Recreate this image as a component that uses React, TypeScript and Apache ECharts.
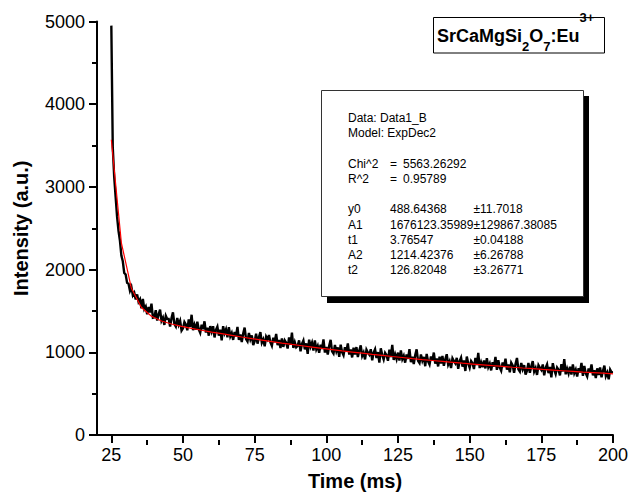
import React, { useEffect, useRef } from 'react';
import * as echarts from 'echarts';

// ---------- data ----------
const TIME_START = 25; // ms, first recorded sample
const TIME_STEP = 0.5; // ms between samples
const decayIntensity = [
  4950, 3480, 3120, 2880, 2640, 2470, 2350, 2170, 2100, 1960,
  1940, 1840, 1830, 1745, 1790, 1690, 1720, 1640, 1700, 1610,
  1640, 1532, 1644, 1524, 1555, 1460, 1547, 1483, 1588, 1418,
  1424, 1510, 1385, 1459, 1515, 1382, 1419, 1331, 1443, 1404,
  1404, 1311, 1414, 1483, 1342, 1312, 1414, 1334, 1380, 1263,
  1290, 1367, 1338, 1266, 1399, 1308, 1454, 1268, 1333, 1273,
  1369, 1277, 1236, 1333, 1279, 1375, 1239, 1298, 1201, 1316,
  1250, 1315, 1180, 1271, 1310, 1201, 1273, 1144, 1316, 1231,
  1278, 1181, 1303, 1193, 1234, 1150, 1247, 1194, 1308, 1149,
  1215, 1124, 1228, 1299, 1159, 1131, 1234, 1156, 1203, 1088,
  1135, 1225, 1105, 1183, 1244, 1115, 1156, 1073, 1189, 1155,
  1209, 1119, 1079, 1177, 1124, 1222, 1087, 1148, 1051, 1168,
  1065, 1144, 1116, 1046, 1180, 1091, 1239, 1054, 1121, 1062,
  1079, 1145, 1011, 1103, 1143, 1035, 1108, 980, 1153, 1069,
  1117, 1021, 1144, 1035, 1077, 994, 1092, 1040, 1155, 997,
  1064, 974, 1079, 1151, 1012, 985, 1088, 1011, 1059, 945,
  1093, 1003, 964, 1062, 1010, 1108, 973, 1034, 938, 1055,
  972, 1063, 943, 1022, 1083, 955, 997, 914, 1031, 997,
  971, 1037, 904, 996, 1037, 930, 1003, 876, 1049, 966,
  914, 993, 966, 897, 1032, 943, 1091, 907, 975, 917,
  996, 900, 1023, 916, 958, 875, 973, 921, 1038, 880,
  947, 857, 963, 1035, 896, 870, 974, 897, 945, 832,
  980, 890, 852, 950, 899, 997, 863, 925, 829, 947,
  864, 955, 836, 915, 977, 849, 891, 809, 926, 893,
  867, 933, 801, 893, 935, 827, 901, 774, 948, 865,
  814, 894, 867, 798, 933, 845, 994, 810, 878, 820,
  900, 805, 928, 821, 863, 781, 880, 828, 945, 787,
  905, 816, 777, 876, 825, 924, 790, 852, 757, 874,
  842, 753, 858, 931, 793, 767, 871, 795, 844, 730,
  779, 871, 752, 831, 893, 766, 809, 727, 844, 811,
  786, 853, 721, 813, 855, 748, 822, 696, 869, 787,
  736, 816, 790, 721, 857, 769, 917, 734, 802, 745,
  825, 730, 854, 747, 790, 708, 807, 756, 873, 716,
  834, 745, 707, 806, 755, 854, 721, 783, 688, 806,
  724, 816, 697, 777, 839, 712, 755, 673, 791, 758,
  760,
];

const FIT_START = 25; // ms
const FIT_STEP = 3.5; // ms between fit-curve points
const fitIntensity = [
  3570, 2324, 1774, 1541, 1435, 1378, 1342, 1314, 1290, 1267,
  1245, 1225, 1205, 1185, 1166, 1148, 1130, 1112, 1095, 1079,
  1063, 1047, 1032, 1017, 1003, 989, 975, 962, 949, 937,
  924, 912, 901, 890, 879, 868, 858, 848, 838, 829,
  819, 810, 802, 793, 785, 777, 769, 761, 754, 747,
  740,
];

const xMajorTicks = [25, 50, 75, 100, 125, 150, 175, 200];
const xMinorTicks = [37.5, 62.5, 87.5, 112.5, 137.5, 162.5, 187.5];

const reportLabels = ['Data: Data1_B', 'Model: ExpDec2', '', 'Chi^2', 'R^2', '', 'y0', 'A1', 't1', 'A2', 't2'];
const reportEquals = ['', '', '', '=', '=', '', '', '', '', '', ''];
const reportStats = ['', '', '', '5563.26292', '0.95789', '', '', '', '', '', ''];
const reportValues = ['', '', '', '', '', '', '488.64368', '1676123.35989', '3.76547', '1214.42376', '126.82048'];
const reportErrors = ['', '', '', '', '', '', '±11.7018', '±129867.38085', '±0.04188', '±6.26788', '±3.26771'];

const FONT = "'Liberation Sans', Arial, Helvetica, sans-serif";

function measure(text: string, size: number, weight: string) {
  const c = document.createElement('canvas').getContext('2d');
  if (!c) return text.length * size * 0.6;
  c.font = `${weight} ${size}px ${FONT}`;
  return c.measureText(text).width;
}

export default function App() {
  const ref = useRef<HTMLDivElement>(null);

  useEffect(() => {
    if (!ref.current) return;
    const chart = echarts.init(ref.current, null, { renderer: 'svg' });

    const decayData = decayIntensity.map((v, i) => [TIME_START + i * TIME_STEP, v]);
    const fitData = fitIntensity.map((v, i) => [FIT_START + i * FIT_STEP, v]);

    // legend-box formula pieces
    const pieces = [
      { t: 'SrCaMgSi', s: 18, y: 35.5 },
      { t: '2', s: 13, y: 46 },
      { t: 'O', s: 18, y: 35.5 },
      { t: '7', s: 13, y: 46 },
      { t: ':Eu', s: 18, y: 35.5 },
      { t: '3+', s: 13, y: 17 },
    ];
    let px = 437;
    const formulaEls: any[] = [];
    pieces.forEach((p) => {
      formulaEls.push({
        type: 'text',
        x: px,
        y: p.y,
        z: 12,
        style: {
          text: p.t,
          fill: '#000',
          fontSize: p.s,
          fontWeight: 'bold',
          fontFamily: FONT,
          align: 'left',
          verticalAlign: 'middle',
        },
      });
      px += measure(p.t, p.s, 'bold');
    });

    const reportCol = (lines: string[], x: number) => ({
      type: 'text',
      x,
      y: 110.5,
      z: 12,
      style: {
        text: lines.join('\n'),
        fill: '#000',
        fontSize: 12,
        fontFamily: FONT,
        lineHeight: 15.2,
        align: 'left',
        verticalAlign: 'top',
      },
    });

    const axisLine = { show: true, onZero: false, lineStyle: { color: '#000', width: 2 } };

    chart.setOption({
      animation: false,
      backgroundColor: '#fff',
      textStyle: { fontFamily: FONT },
      grid: [
        { left: 97, right: 19, top: 21.5, bottom: 56, containLabel: false },
        { left: 97, right: 19, top: 21.5, bottom: 56, containLabel: false },
      ],
      xAxis: [
        {
          type: 'value',
          gridIndex: 0,
          min: 20,
          max: 200,
          axisLine,
          axisTick: { show: true, length: 8, customValues: xMajorTicks, lineStyle: { color: '#000', width: 2 } },
          axisLabel: { customValues: xMajorTicks, fontSize: 18, color: '#000', margin: 11, fontFamily: FONT },
          splitLine: { show: false },
          name: 'Time (ms)',
          nameLocation: 'middle',
          nameGap: 36,
          nameTextStyle: { fontSize: 20, fontWeight: 'bold', color: '#000', fontFamily: FONT },
        },
        {
          type: 'value',
          gridIndex: 1,
          min: 20,
          max: 200,
          axisLine: { show: false },
          axisTick: { show: true, length: 5, customValues: xMinorTicks, lineStyle: { color: '#000', width: 2 } },
          axisLabel: { show: false },
          splitLine: { show: false },
        },
      ],
      yAxis: [
        {
          type: 'value',
          gridIndex: 0,
          min: 0,
          max: 5000,
          interval: 1000,
          axisLine,
          axisTick: { show: true, length: 8, lineStyle: { color: '#000', width: 2 } },
          minorTick: { show: true, splitNumber: 2, length: 5, lineStyle: { color: '#000', width: 2 } },
          axisLabel: {
            fontSize: 18,
            color: '#000',
            margin: 12,
            fontFamily: FONT,
            formatter: (v: number) => String(v),
          },
          splitLine: { show: false },
          minorSplitLine: { show: false },
          name: 'Intensity (a.u.)',
          nameLocation: 'middle',
          nameGap: 66,
          nameTextStyle: { fontSize: 20, fontWeight: 'bold', color: '#000', fontFamily: FONT },
        },
        { type: 'value', gridIndex: 1, min: 0, max: 5000, show: false },
      ],
      series: [
        {
          type: 'line',
          name: 'Data1_B',
          xAxisIndex: 0,
          yAxisIndex: 0,
          data: decayData,
          showSymbol: false,
          symbol: 'none',
          lineStyle: { color: '#000', width: 2.4, join: 'miter' },
          z: 2,
        },
        {
          type: 'line',
          name: 'ExpDec2',
          xAxisIndex: 0,
          yAxisIndex: 0,
          data: fitData,
          showSymbol: false,
          symbol: 'none',
          lineStyle: { color: '#ff0000', width: 1.2 },
          z: 3,
        },
      ],
      graphic: [
        // fit report box with drop shadow
        { type: 'rect', z: 10, shape: { x: 327, y: 96, width: 262, height: 207 }, style: { fill: '#000' } },
        {
          type: 'rect',
          z: 11,
          shape: { x: 321.5, y: 90.5, width: 262, height: 206 },
          style: { fill: '#fff', stroke: '#333', lineWidth: 1 },
        },
        reportCol(reportLabels, 348),
        reportCol(reportEquals, 390),
        reportCol(reportStats, 403),
        reportCol(reportValues, 390),
        reportCol(reportErrors, 473.5),
        // formula box
        {
          type: 'rect',
          z: 11,
          shape: { x: 433.5, y: 17.5, width: 171, height: 35.5 },
          style: { fill: '#fff', stroke: '#000', lineWidth: 1 },
        },
        ...formulaEls,
      ],
    });

    return () => chart.dispose();
  }, []);

  return (
    <div
      ref={ref}
      style={{ position: 'fixed', left: 0, top: 0, width: 632, height: 496, background: '#fff' }}
    />
  );
}
